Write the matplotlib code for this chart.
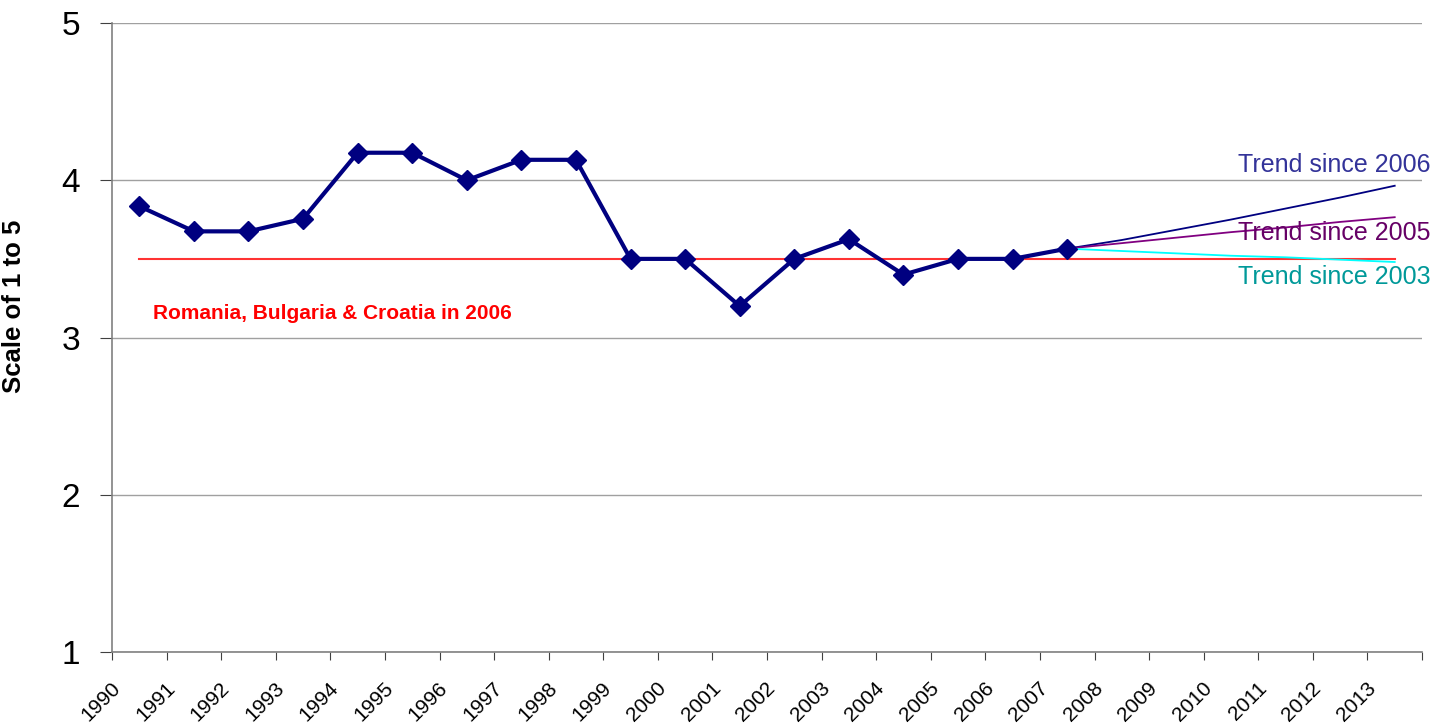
import matplotlib
matplotlib.use("Agg")
import matplotlib.pyplot as plt
import numpy as np

plt.rcParams['font.family'] = ['Liberation Sans', 'DejaVu Sans']

years = [str(y) for y in range(1990, 2014)]
score_years = list(range(1990, 2008))
scores = [3.835, 3.675, 3.675, 3.755, 4.175, 4.175, 4.0, 4.13, 4.13,
          3.5, 3.5, 3.2, 3.5, 3.625, 3.4, 3.5, 3.5, 3.565]
benchmark_years = list(range(1990, 2014))
benchmark = [3.5] * 24
trend_years = list(range(2007, 2014))
trend_2006 = [3.565, 3.62, 3.685, 3.75, 3.82, 3.89, 3.965]
trend_2005 = [3.565, 3.60, 3.635, 3.67, 3.70, 3.735, 3.765]
trend_2003 = [3.565, 3.55, 3.535, 3.52, 3.51, 3.495, 3.48]

def xpos(yrs):
    return [y - 1990 + 0.5 for y in yrs]

fig = plt.figure(figsize=(14.35, 7.24), dpi=100)
ax = fig.add_axes([112/1435, 1-652/724, (1422-112)/1435, (652-23)/724])

ax.set_xlim(0, 24)
ax.set_ylim(1, 5)
ax.set_yticks([1, 2, 3, 4, 5])
ax.grid(axis='y', color='#A0A0A0', linewidth=1.0)
ax.set_axisbelow(True)

ax.plot(xpos(benchmark_years), benchmark, color='#FF3333', linewidth=1.5, zorder=2)
ax.plot(xpos(trend_years), trend_2006, color='#000080', linewidth=1.3, zorder=3)
ax.plot(xpos(trend_years), trend_2005, color='#800080', linewidth=1.3, zorder=3)
ax.plot(xpos(trend_years), trend_2003, color='#00FFFF', linewidth=1.3, zorder=3)
ax.plot(xpos(score_years), scores, color='#000080', linewidth=3.0,
        marker='D', markersize=10.5, zorder=4)

for s in ['top', 'right']:
    ax.spines[s].set_visible(False)
for s in ['left', 'bottom']:
    ax.spines[s].set_color('#808080')
    ax.spines[s].set_linewidth(1.2)

# category boundary ticks (unlabelled) and labels slightly right of them
ax.set_xticks(range(25))
ax.set_xticklabels([''] * 25)
ax.set_xticks([i + 0.22 for i in range(24)], minor=True)
ax.set_xticklabels(years, minor=True, rotation=45, ha='right', va='top', fontsize=15)
ax.tick_params(axis='x', which='major', direction='out', length=6, color='#404040')
ax.tick_params(axis='x', which='minor', length=0, pad=19)
ax.tick_params(axis='y', direction='out', length=9, color='#404040', labelsize=24, pad=14)

ax.set_ylabel('Scale of 1 to 5', fontsize=18.5, fontweight='bold')
ax.yaxis.set_label_coords(-0.0656, 0.55)

ax.text(0.75, 3.15, 'Romania, Bulgaria & Croatia in 2006', color='#FF0000',
        fontsize=15, fontweight='bold', va='center', ha='left')
ax.text(24.15, 4.097, 'Trend since 2006', color='#333399', fontsize=18,
        ha='right', va='center', clip_on=False)
ax.text(24.15, 3.665, 'Trend since 2005', color='#660066', fontsize=18,
        ha='right', va='center', clip_on=False)
ax.text(24.15, 3.385, 'Trend since 2003', color='#009999', fontsize=18,
        ha='right', va='center', clip_on=False)

fig.savefig('out.png', dpi=100)
